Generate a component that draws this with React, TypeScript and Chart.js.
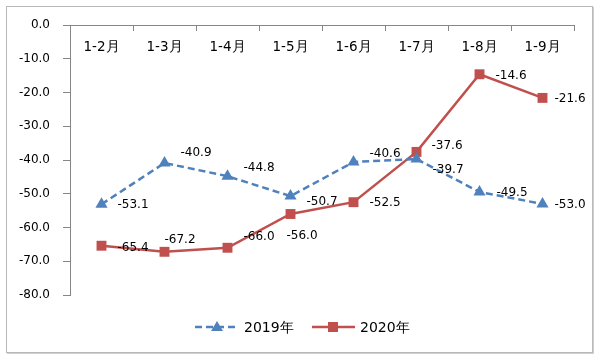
import React, { useEffect, useRef } from "react";
import { Chart, registerables } from "chart.js";

Chart.register(...registerables);

const categories = ["1-2月", "1-3月", "1-4月", "1-5月", "1-6月", "1-7月", "1-8月", "1-9月"];
const series2019 = [-53.1, -40.9, -44.8, -50.7, -40.6, -39.7, -49.5, -53.0];
const series2020 = [-65.4, -67.2, -66.0, -56.0, -52.5, -37.6, -14.6, -21.6];
const seriesNames = ["2019年", "2020年"];
const yMin = -80;
const yMax = 0;
const yStep = 10;

const BLUE = "#4F81BD";
const RED = "#C0504D";
const AXIS = "#868686";
const FONT = "DejaVu Sans";

// label nudges (dx to text left edge, dy to text centre), per series
const labelNudges = [
  [[16, 1], [16, -10], [16, -8], [16, 6], [16, -8], [16, 11], [17, 1], [12, 1]],
  [[16, 2], [0, -12], [16, -11], [-4, 22], [16, 1], [15, -6], [16, 2], [12, 1]],
];

const decorPlugin = {
  id: "decor",
  afterDatasetsDraw(chart: any) {
    const ctx = chart.ctx;
    const area = chart.chartArea;
    const xs = chart.scales.x;
    ctx.save();
    // category ticks (inside) and labels
    const n = categories.length;
    const step = (area.right - area.left) / n;
    ctx.strokeStyle = AXIS;
    ctx.lineWidth = 1;
    for (let i = 0; i <= n; i++) {
      const x = Math.round(area.left + i * step) + 0.5;
      ctx.beginPath();
      ctx.moveTo(x, area.top);
      ctx.lineTo(x, area.top + 6);
      ctx.stroke();
    }
    ctx.fillStyle = "#000";
    ctx.font = `13.5px "${FONT}"`;
    ctx.textAlign = "center";
    ctx.textBaseline = "middle";
    categories.forEach((c, i) => {
      ctx.fillText(c, xs.getPixelForValue(i), area.top + 22);
    });
    // data labels
    ctx.font = `12px "${FONT}"`;
    ctx.textAlign = "left";
    chart.data.datasets.forEach((ds: any, di: number) => {
      const meta = chart.getDatasetMeta(di);
      meta.data.forEach((pt: any, i: number) => {
        const [dx, dy] = labelNudges[di][i];
        ctx.fillText(ds.data[i].toFixed(1), pt.x + dx, pt.y + dy);
      });
    });
    // legend
    const ly = 327;
    ctx.lineWidth = 2.5;
    ctx.strokeStyle = BLUE;
    ctx.setLineDash([7, 4]);
    ctx.beginPath();
    ctx.moveTo(195, ly);
    ctx.lineTo(238, ly);
    ctx.stroke();
    ctx.setLineDash([]);
    ctx.fillStyle = BLUE;
    ctx.beginPath();
    ctx.moveTo(217, ly - 6);
    ctx.lineTo(223, ly + 4);
    ctx.lineTo(211, ly + 4);
    ctx.closePath();
    ctx.fill();
    ctx.strokeStyle = RED;
    ctx.beginPath();
    ctx.moveTo(312, ly);
    ctx.lineTo(355, ly);
    ctx.stroke();
    ctx.fillStyle = RED;
    ctx.fillRect(328, ly - 5, 10, 10);
    ctx.fillStyle = "#000";
    ctx.font = `14px "${FONT}"`;
    ctx.fillText(seriesNames[0], 244, ly + 1);
    ctx.fillText(seriesNames[1], 360, ly + 1);
    ctx.restore();
  },
};

export default function App() {
  const ref = useRef<HTMLCanvasElement>(null);
  useEffect(() => {
    if (!ref.current) return;
    const chart = new Chart(ref.current, {
      type: "line",
      data: {
        labels: categories,
        datasets: [
          {
            label: seriesNames[0],
            data: series2019,
            borderColor: BLUE,
            backgroundColor: BLUE,
            borderWidth: 2.5,
            borderDash: [7, 4],
            pointStyle: "triangle",
            pointRadius: 7,
            pointBorderWidth: 0,
            pointBackgroundColor: BLUE,
            tension: 0,
          },
          {
            label: seriesNames[1],
            data: series2020,
            borderColor: RED,
            backgroundColor: RED,
            borderWidth: 2.5,
            pointStyle: "rect",
            pointRadius: 7,
            pointBorderWidth: 0,
            pointBackgroundColor: RED,
            tension: 0,
          },
        ],
      },
      options: {
        animation: false,
        responsive: false,
        events: [],
        layout: { padding: { left: 0, top: 0, right: 26, bottom: 65 } },
        plugins: { legend: { display: false }, tooltip: { enabled: false } },
        scales: {
          x: {
            type: "category",
            position: "top",
            offset: true,
            ticks: { display: false },
            grid: { display: false },
            border: { display: true, color: AXIS, width: 1 },
            afterFit: (s: any) => {
              s.height = 25;
            },
          },
          y: {
            min: yMin,
            max: yMax,
            ticks: {
              stepSize: yStep,
              padding: 13,
              color: "#000",
              font: { family: FONT, size: 12 },
              callback: (v: any) => Number(v).toFixed(1),
            },
            grid: { display: true, drawOnChartArea: false, drawTicks: true, tickLength: 7, color: AXIS },
            border: { display: true, color: AXIS, width: 1 },
            afterFit: (s: any) => {
              s.width = 70;
            },
          },
        },
      },
      plugins: [decorPlugin],
    });
    return () => chart.destroy();
  }, []);
  return (
    <div style={{ position: "fixed", left: 0, top: 0, width: 600, height: 360, background: "#fff" }}>
      <div
        style={{
          position: "absolute",
          left: 6,
          top: 6,
          width: 587,
          height: 347,
          boxSizing: "border-box",
          border: "1px solid #b8b8b8",
          boxShadow: "1px 1px 0 #d0d0d0",
        }}
      />
      <canvas ref={ref} width={600} height={360} style={{ position: "absolute", left: 0, top: 0 }} />
    </div>
  );
}
